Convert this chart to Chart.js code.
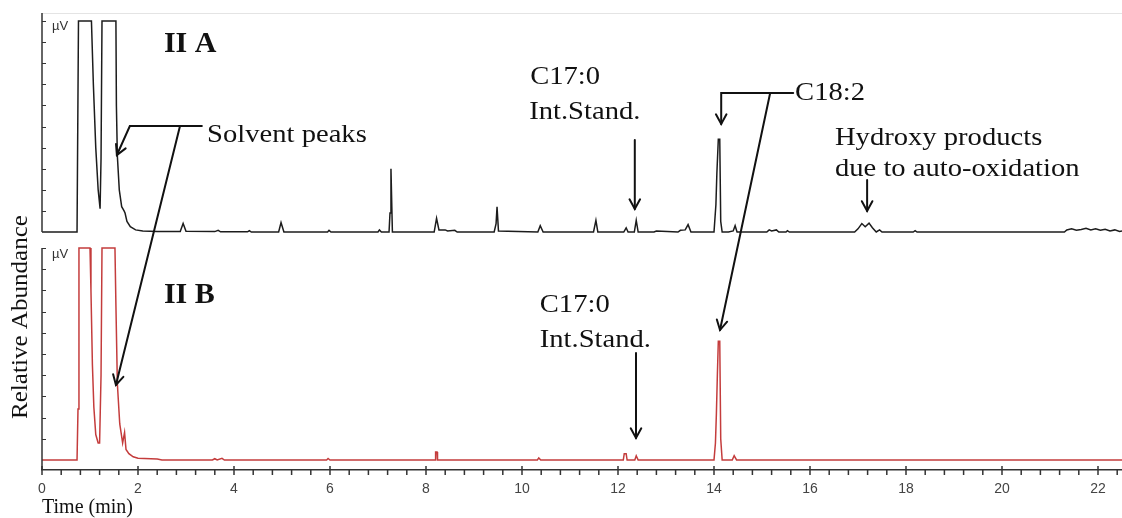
<!DOCTYPE html>
<html>
<head>
<meta charset="utf-8">
<title>GC traces II A / II B</title>
<script src="https://cdn.jsdelivr.net/npm/chart.js@4"></script>
<style>
  html, body { margin: 0; padding: 0; background: #fff; }
  #wrap { width: 1122px; height: 518px; }
</style>
</head>
<body>
<div id="wrap"><canvas id="chart" width="1122" height="518"></canvas></div>
<script>
// ─── data: [time (min), signal] (100 = detector clip) ───
const traceA = [
  [0,0],[0.73,0],[0.76,100],[1.03,100],[1.07,70],[1.12,40],[1.17,20],[1.21,11],[1.23,35],[1.25,100],
  [1.54,100],[1.55,60],[1.57,36],[1.61,20],[1.66,12],[1.71,10],[1.73,9],[1.77,5],[1.84,2.5],[1.95,1],
  [2.1,0.5],[2.4,0.2],[2.88,0.2],[2.94,4],[3.0,0.3],[3.6,0.2],[3.67,0.8],[3.72,0.1],[4.28,0.1],[4.32,0.6],
  [4.36,0],[4.93,0],[4.98,4.5],[5.04,0],[5.95,0],[5.98,0.8],[6.02,0],[7.0,0],[7.03,1],[7.07,0],
  [7.23,0],[7.25,9],[7.27,30],[7.30,0],[8.17,0],[8.22,6.5],[8.27,1],[8.40,1],[8.45,0.5],[8.60,0.8],
  [8.65,0],[9.42,0],[9.46,4],[9.48,12],[9.51,0.5],[10.33,0],[10.38,3],[10.44,0],[11.49,0],[11.54,5.5],
  [11.58,0],[12.12,0],[12.17,2],[12.21,0],[12.34,0],[12.38,5.5],[12.42,0],[12.75,0],[12.8,0.5],[13.25,0],
  [13.3,0.8],[13.4,1],[13.46,3.5],[13.52,0],[14.0,0],[14.04,13],[14.06,28],[14.09,44],[14.12,44],[14.14,5],
  [14.17,0],[14.3,0],[14.4,0.5],[14.44,3],[14.48,0],[15.1,0],[15.15,1],[15.2,0.5],[15.3,1],[15.35,0],
  [15.5,0],[15.53,0.6],[15.57,0],[16.93,0],[17.0,1.5],[17.08,4],[17.15,2.5],[17.23,4.2],[17.3,2],[17.38,0],
  [17.45,1],[17.5,0],[18.15,0],[18.19,0.6],[18.23,0],[21.3,0],[21.35,1],[21.45,1.5],[21.55,0.8],[21.65,1.2],
  [21.75,1.8],[21.85,1],[21.95,1.5],[22.05,0.8],[22.15,1.3],[22.25,0.5],[22.35,1],[22.45,0.3],[22.5,0.5]
];
const traceB = [
  [0,0],[0.73,0],[0.75,24],[0.77,100],[1.0,100],[1.02,80],[1.05,45],[1.08,25],[1.12,12],[1.17,8],
  [1.20,8],[1.23,40],[1.25,100],[1.52,100],[1.54,73],[1.57,36],[1.62,17],[1.68,8],[1.72,13],[1.75,5],
  [1.81,3],[1.9,1.5],[2.0,0.8],[2.4,0.5],[2.5,0],[3.55,0],[3.6,0.6],[3.65,0],[3.75,0.8],[3.8,0],
  [5.93,0],[5.96,0.7],[6.0,0],[8.19,0],[8.2,3.8],[8.23,3.8],[8.24,0],[10.32,0],[10.35,1],[10.39,0],
  [12.11,0],[12.13,3],[12.17,3],[12.19,0],[12.35,0],[12.38,2],[12.42,0],[14.0,0],[14.03,8],[14.05,22],
  [14.07,40],[14.09,56],[14.12,56],[14.14,10],[14.17,0],[14.38,0],[14.42,2],[14.47,0],[22.5,0]
];
const timeRange = [0, 22.5];
const majorStep = 2;
const minorStep = 0.4;

// ─── notes and arrows, in data units of each panel ───
const notes = [
  { text: 'II A', axis: 'yA', t: 2.54, v: 89, bold: true },
  { text: 'II B', axis: 'yB', t: 2.54, v: 77.5, bold: true },
  { text: 'Solvent peaks', axis: 'yA', t: 3.44, v: 46 },
  { text: 'C17:0', axis: 'yA', t: 10.17, v: 73.5 },
  { text: 'Int.Stand.', axis: 'yA', t: 10.15, v: 57 },
  { text: 'C17:0', axis: 'yB', t: 10.37, v: 73 },
  { text: 'Int.Stand.', axis: 'yB', t: 10.37, v: 56.6 },
  { text: 'C18:2', axis: 'yA', t: 15.69, v: 66 },
  { text: 'Hydroxy products', axis: 'yA', t: 16.52, v: 44.5 },
  { text: 'due to auto-oxidation', axis: 'yA', t: 16.52, v: 30 }
];
const arrows = [
  [['yA', 3.33, 50.2], ['yA', 1.83, 50.2], ['yA', 1.56, 36.5]],
  [['yA', 2.875, 50.2], ['yB', 1.54, 35.4]],
  [['yA', 12.35, 43.6], ['yA', 12.35, 10.9]],
  [['yB', 12.375, 50.5], ['yB', 12.375, 10.4]],
  [['yA', 15.65, 65.9], ['yA', 14.15, 65.9], ['yA', 14.15, 51.2]],
  [['yA', 15.17, 65.9], ['yB', 14.125, 61.3]],
  [['yA', 17.19, 24.6], ['yA', 17.19, 10]]
];

function line(ctx, x1, y1, x2, y2) {
  ctx.beginPath(); ctx.moveTo(x1, y1); ctx.lineTo(x2, y2); ctx.stroke();
}

// serif text in the figure is a little wider than Liberation Serif
function stretchedText(ctx, text, x, y, font, sx) {
  ctx.save();
  ctx.font = font;
  ctx.translate(x, y);
  ctx.scale(sx, 1);
  ctx.fillText(text, 0, 0);
  ctx.restore();
}

const decor = {
  id: 'decor',
  afterDatasetsDraw(chart) {
    const { ctx, chartArea, scales } = chart;
    const xs = scales.x, yA = scales.yA, yB = scales.yB;
    const left = chartArea.left;
    ctx.save();

    // faint frame at top
    ctx.strokeStyle = '#e4e4e4'; ctx.lineWidth = 1;
    line(ctx, left, chartArea.top + 0.5, chartArea.right, chartArea.top + 0.5);

    // panel axis lines + inner ticks
    ctx.strokeStyle = '#333'; ctx.lineWidth = 1.5;
    line(ctx, left, yA.top, left, yA.getPixelForValue(0));
    line(ctx, left, yB.getPixelForValue(100), left, yB.bottom);
    ctx.lineWidth = 1;
    [yA, yB].forEach(s => s.ticks.forEach(tk => {
      if (tk.value > 0 && tk.value <= 100) {
        const py = Math.round(s.getPixelForValue(tk.value)) + 0.5;
        line(ctx, left, py, left + 4, py);
      }
    }));

    // time axis ticks
    const axisY = xs.top;
    ctx.strokeStyle = '#333'; ctx.lineWidth = 1.5;
    for (let k = 0; k * minorStep <= timeRange[1] + 1e-9; k++) {
      const t = k * minorStep;
      const px = xs.getPixelForValue(t);
      const isMajor = Math.abs(t / majorStep - Math.round(t / majorStep)) < 1e-6;
      if (isMajor) line(ctx, px, axisY - 4, px, axisY + 5);
      else line(ctx, px, axisY, px, axisY + 5);
    }

    // µV unit marks
    ctx.fillStyle = '#333';
    ctx.font = '13px "Liberation Sans", Arial, sans-serif';
    ctx.textBaseline = 'middle'; ctx.textAlign = 'left';
    ctx.fillText('µV', left + 10, yA.getPixelForValue(100) + 5);
    ctx.fillText('µV', left + 10, yB.getPixelForValue(100) + 6);

    // rotated y title
    ctx.save();
    ctx.fillStyle = '#111';
    ctx.translate(left - 21, 317);
    ctx.rotate(-Math.PI / 2);
    ctx.textAlign = 'center';
    ctx.scale(1.09, 1);
    ctx.font = '23px "Liberation Serif", "Times New Roman", serif';
    ctx.fillText('Relative Abundance', 0, 0);
    ctx.restore();

    // notes
    ctx.fillStyle = '#111';
    ctx.textAlign = 'left'; ctx.textBaseline = 'middle';
    notes.forEach(n => {
      const px = xs.getPixelForValue(n.t);
      const py = scales[n.axis].getPixelForValue(n.v);
      if (n.bold) stretchedText(ctx, n.text, px, py, 'bold 30px "Liberation Serif", "Times New Roman", serif', 1);
      else stretchedText(ctx, n.text, px, py, '26px "Liberation Serif", "Times New Roman", serif', 1.1);
    });

    // arrows
    ctx.strokeStyle = '#111'; ctx.lineWidth = 2; ctx.lineCap = 'round';
    arrows.forEach(path => {
      const pts = path.map(([ax, t, v]) => [xs.getPixelForValue(t), scales[ax].getPixelForValue(v)]);
      ctx.beginPath();
      ctx.moveTo(pts[0][0], pts[0][1]);
      pts.slice(1).forEach(p => ctx.lineTo(p[0], p[1]));
      ctx.stroke();
      const [tx, ty] = pts[pts.length - 1];
      const [fx, fy] = pts[pts.length - 2];
      const a = Math.atan2(ty - fy, tx - fx);
      const len = 11, spread = 0.5;
      ctx.beginPath();
      ctx.moveTo(tx - len * Math.cos(a - spread), ty - len * Math.sin(a - spread));
      ctx.lineTo(tx, ty);
      ctx.lineTo(tx - len * Math.cos(a + spread), ty - len * Math.sin(a + spread));
      ctx.stroke();
    });
    ctx.restore();
  }
};

const hiddenY = (min, max) => ({
  type: 'linear',
  position: 'left',
  stack: 'panels',
  stackWeight: 1,
  min, max,
  ticks: { display: false, stepSize: 10, includeBounds: false },
  grid: { display: false, drawTicks: false },
  border: { display: false },
  afterFit(s) { s.width = 0; }
});

new Chart(document.getElementById('chart'), {
  type: 'line',
  data: {
    datasets: [
      {
        label: 'II A',
        data: traceA.map(([t, v]) => ({ x: t, y: v })),
        yAxisID: 'yA',
        borderColor: '#1c1c1c',
        borderWidth: 1.5,
        pointRadius: 0,
        tension: 0
      },
      {
        label: 'II B',
        data: traceB.map(([t, v]) => ({ x: t, y: v })),
        yAxisID: 'yB',
        borderColor: '#c43c3c',
        borderWidth: 1.5,
        pointRadius: 0,
        tension: 0
      }
    ]
  },
  options: {
    responsive: false,
    animation: false,
    layout: { padding: { left: 42, top: 13, right: 0, bottom: 0 } },
    plugins: { legend: { display: false }, tooltip: { enabled: false } },
    scales: {
      x: {
        type: 'linear',
        min: timeRange[0],
        max: timeRange[1],
        ticks: {
          stepSize: majorStep,
          includeBounds: false,
          autoSkip: false,
          maxRotation: 0,
          padding: 11,
          color: '#444',
          font: { family: '"Liberation Sans", Arial, sans-serif', size: 14 }
        },
        grid: { display: false, drawTicks: false },
        border: { display: true, color: '#333', width: 1.5 },
        title: {
          display: true,
          text: 'Time (min)',
          align: 'start',
          color: '#111',
          padding: { top: 0, bottom: 0 },
          font: { family: '"Liberation Serif", "Times New Roman", serif', size: 20, lineHeight: 1 }
        },
        afterFit(s) { s.height = 48; }
      },
      // stacked panels: the later-listed axis is placed on top
      yB: hiddenY(-4.72, 103.07),
      yA: hiddenY(-4.5, 103.79)
    }
  },
  plugins: [decor]
});
</script>
</body>
</html>
